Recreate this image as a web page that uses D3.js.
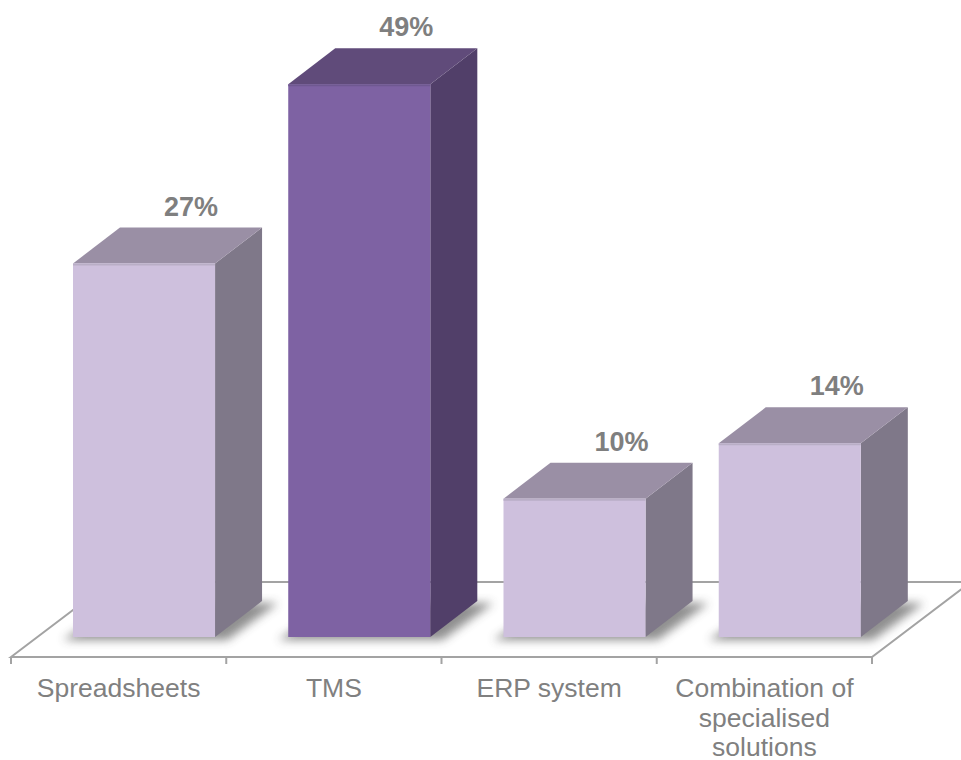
<!DOCTYPE html>
<html><head><meta charset="utf-8">
<script src="https://cdn.jsdelivr.net/npm/d3@7/dist/d3.min.js"></script>
<style>body{margin:0;background:#fff}svg{display:block}</style>
</head><body>
<svg id="c" width="961" height="760"></svg>
<script>
const categories = ["Spreadsheets", "TMS", "ERP system", "Combination of specialised solutions"];
const categoryLines = [["Spreadsheets"], ["TMS"], ["ERP system"], ["Combination of", "specialised", "solutions"]];
const values = [27, 49, 10, 14];
const valueLabels = ["27%", "49%", "10%", "14%"];
const highlighted = [false, true, false, false];

const svg = d3.select("#c");
const floorY = 657, baseY = 637, depthX = 47, depthY = -36;
const floorDX = 99, floorDY = -75;

const x = d3.scaleBand().domain(categories).range([11, 872]).paddingInner(0).paddingOuter(0);
const y = d3.scaleLinear().domain([0, 30, 50]).range([baseY, baseY - 415, baseY - 560]);
const bw = x.bandwidth() * 0.66, bOff = x.bandwidth() * 0.288;

const defs = svg.append("defs");
defs.append("filter").attr("id", "blur").attr("x", "-50%").attr("y", "-50%").attr("width", "200%").attr("height", "200%")
  .append("feGaussianBlur").attr("stdDeviation", 5);

const lineCol = "#a3a3a3";
const x0 = x.range()[0], x1 = x.range()[1];
svg.append("path")
  .attr("d", `M${x0},${floorY}L${x0 + floorDX},${floorY + floorDY}L${x1 + floorDX},${floorY + floorDY}L${x1},${floorY}Z`)
  .attr("fill", "#fff").attr("stroke", lineCol).attr("stroke-width", 2);

const bounds = categories.map(c => x(c)).concat([x1]);
svg.selectAll("line.tick").data(bounds).join("line")
  .attr("x1", d => d).attr("x2", d => d).attr("y1", floorY).attr("y2", floorY + 7)
  .attr("stroke", lineCol).attr("stroke-width", 2);

const pal = {
  light: {front: "#cec0dd", side: "#7f7889", top: "#9a8fa5", edge: "#b9aec6"},
  dark: {front: "#7e62a3", side: "#513f69", top: "#604b7a", edge: "#6f5891"}
};

const g = svg.selectAll("g.bar").data(values).join("g").attr("class", "bar");
g.each(function(v, i) {
  const s = d3.select(this);
  const c = highlighted[i] ? pal.dark : pal.light;
  const L = x(categories[i]) + bOff, R = L + bw, T = y(v), B = baseY;
  s.append("path")
    .attr("d", `M${L - 10},${B + 3}L${R + 12},${B + 3}L${R + depthX + 16},${B + depthY + 2}L${L + depthX},${B + depthY + 2}Z`)
    .attr("fill", "#444").attr("opacity", 0.6).attr("filter", "url(#blur)");
  s.append("path")
    .attr("d", `M${R},${T}L${R + depthX},${T + depthY}L${R + depthX},${B + depthY}L${R},${B}Z`)
    .attr("fill", c.side);
  s.append("path")
    .attr("d", `M${L},${T}L${L + depthX},${T + depthY}L${R + depthX},${T + depthY}L${R},${T}Z`)
    .attr("fill", c.top);
  s.append("rect").attr("x", L).attr("y", T).attr("width", bw).attr("height", B - T)
    .attr("fill", c.front);
  s.append("line").attr("x1", L).attr("x2", R).attr("y1", T + 1).attr("y2", T + 1)
    .attr("stroke", c.edge).attr("stroke-width", 2);
  s.append("text").attr("x", L + bw / 2 + 47).attr("y", T + depthY - 12)
    .attr("text-anchor", "middle").attr("font-family", "Liberation Sans, Arial, sans-serif")
    .attr("font-weight", "bold").attr("font-size", 27).attr("fill", "#7f7f7f")
    .text(valueLabels[i]);
});

const lab = svg.selectAll("text.cat").data(categories).join("text").attr("class", "cat")
  .attr("x", d => x(d) + x.bandwidth() / 2).attr("y", 697)
  .attr("text-anchor", "middle").attr("font-family", "Liberation Sans, Arial, sans-serif")
  .attr("font-size", 26.5).attr("fill", "#808080");
lab.each(function(d, i) {
  d3.select(this).selectAll("tspan").data(categoryLines[i]).join("tspan")
    .attr("x", x(d) + x.bandwidth() / 2).attr("dy", (t, j) => j === 0 ? 0 : 29.5).text(t => t);
});
</script>
</body></html>
